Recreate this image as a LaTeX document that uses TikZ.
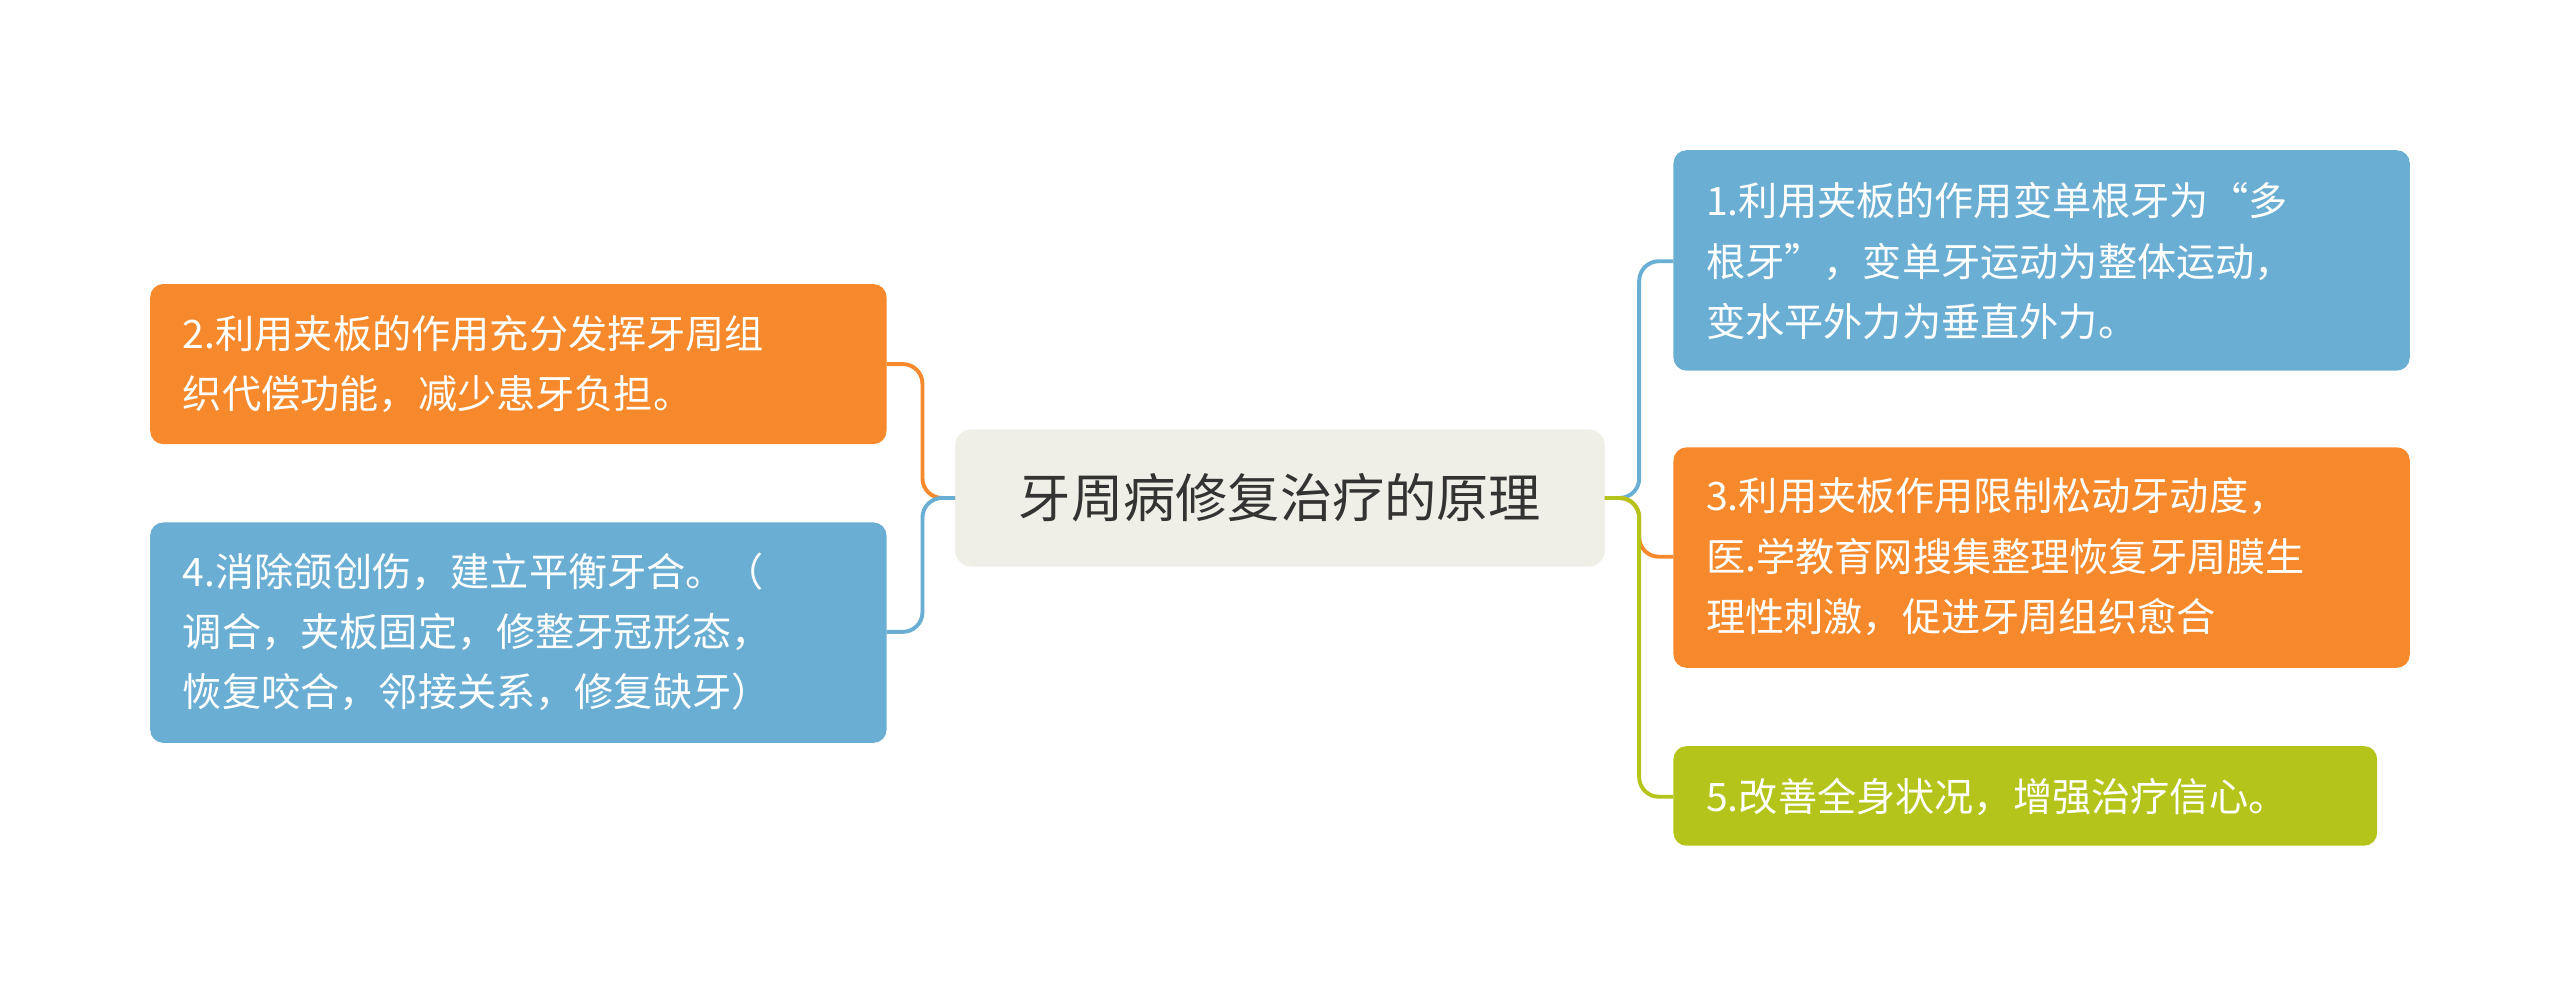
\documentclass[tikz,border=0pt]{standalone}
\usepackage{fontspec}
\setmainfont{Noto Sans CJK SC}
\begin{document}
\begin{tikzpicture}[x=0.5pt,y=-0.5pt,
 box/.style={rounded corners=4pt,inner sep=0pt,anchor=north west,align=left,text=white},
 lbl/.style={anchor=west,align=left,font=\fontsize{12}{18.5}\selectfont,text=white},
 conn/.style={line width=1.2pt,rounded corners=6pt}]
\useasboundingbox (0,0) rectangle (1568,611);
\definecolor{cb}{HTML}{6AAED3}\definecolor{co}{HTML}{F5892B}\definecolor{cg}{HTML}{B5C41A}
\definecolor{cc}{HTML}{EFEFE7}\definecolor{tx}{HTML}{333333}
% boxes
\fill[cc,rounded corners=5pt] (585,263) rectangle (983,347);
\node (c) at (784,305) {\fontsize{16}{20}\selectfont\color{tx}牙周病修复治疗的原理};
\coordinate (cw) at (585,305); \coordinate (ce) at (983,305);
\fill[co,rounded corners=4pt] (92,174) rectangle (543,272);
\node[lbl] (l1) at (105,223) {2.利用夹板的作用充分发挥牙周组\\织代偿功能，减少患牙负担。};
\fill[cb,rounded corners=4pt] (92,320) rectangle (543,455);
\node[lbl] (l2) at (105,387) {4.消除颌创伤，建立平衡牙合。（\\调合，夹板固定，修整牙冠形态，\\恢复咬合，邻接关系，修复缺牙）};
\fill[cb,rounded corners=4pt] (1025,92) rectangle (1476,227);
\node[lbl] (r1) at (1038,160) {1.利用夹板的作用变单根牙为“多\\根牙”，变单牙运动为整体运动，\\变水平外力为垂直外力。};
\fill[co,rounded corners=4pt] (1025,274) rectangle (1476,409);
\node[lbl] (r2) at (1038,341) {3.利用夹板作用限制松动牙动度，\\医.学教育网搜集整理恢复牙周膜生\\理性刺激，促进牙周组织愈合};
\fill[cg,rounded corners=4pt] (1025,457) rectangle (1456,518);
\node[lbl] (r3) at (1038,488) {5.改善全身状况，增强治疗信心。};
\coordinate (a1) at (543,223); \coordinate (a2) at (543,387);
\coordinate (b1) at (1025,160); \coordinate (b2) at (1025,341); \coordinate (b3) at (1025,488);
\draw[conn,co] (cw) -- (565,305) -- (565,223) -- (a1);
\draw[conn,cb] (cw) -- (565,305) -- (565,387) -- (a2);
\draw[conn,cb] (ce) -- (1004,305) -- (1004,160) -- (b1);
\draw[conn,co] (ce) -- (1004,305) -- (1004,341) -- (b2);
\draw[conn,cg] (ce) -- (1004,305) -- (1004,488) -- (b3);
\end{tikzpicture}
\end{document}
